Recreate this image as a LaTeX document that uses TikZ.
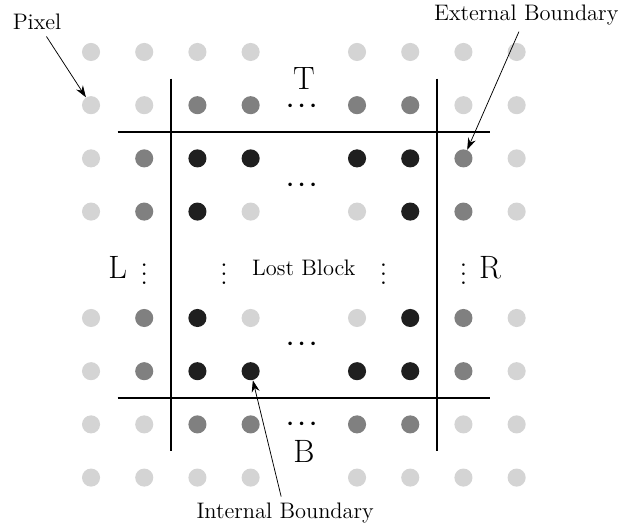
\documentclass[tikz,border=0pt]{standalone}
\usepackage{amsmath}
\usepackage{amssymb}
\usepackage{tikz}
\usetikzlibrary{arrows.meta}

\newcommand{\rowgap}{{\boldmath$\cdots$}}
\newcommand{\colgap}{\scalebox{1.2}{$\vdots$}}

\begin{document}
\begin{tikzpicture}[>={Stealth[length=2.2mm,width=1.5mm]},
  pixel/.style={circle,inner sep=0pt,minimum size=3.4mm},
  lightpx/.style={pixel,fill=black!17},
  midpx/.style={pixel,fill=black!50},
  darkpx/.style={pixel,fill=black!88},
  side/.style={font=\LARGE,inner sep=1pt},
  note/.style={font=\large},
  gap/.style={font=\large,inner sep=0pt},
  cut/.style={line width=1.1pt}]
  \useasboundingbox (-1.711,0.977) rectangle (9.924,-8.929);
  % row 0
  \node[lightpx] (p00) at (0,0) {};
  \node[lightpx] (p01) at (1,0) {};
  \node[lightpx] (p02) at (2,0) {};
  \node[lightpx] (p03) at (3,0) {};
  \node[lightpx] (p05) at (5,0) {};
  \node[lightpx] (p06) at (6,0) {};
  \node[lightpx] (p07) at (7,0) {};
  \node[lightpx] (p08) at (8,0) {};
  % row 1
  \node[lightpx] (p10) at (0,-1) {};
  \node[lightpx] (p11) at (1,-1) {};
  \node[midpx] (p12) at (2,-1) {};
  \node[midpx] (p13) at (3,-1) {};
  \node[midpx] (p15) at (5,-1) {};
  \node[midpx] (p16) at (6,-1) {};
  \node[lightpx] (p17) at (7,-1) {};
  \node[lightpx] (p18) at (8,-1) {};
  % row 2
  \node[lightpx] (p20) at (0,-2) {};
  \node[midpx] (p21) at (1,-2) {};
  \node[darkpx] (p22) at (2,-2) {};
  \node[darkpx] (p23) at (3,-2) {};
  \node[darkpx] (p25) at (5,-2) {};
  \node[darkpx] (p26) at (6,-2) {};
  \node[midpx] (p27) at (7,-2) {};
  \node[lightpx] (p28) at (8,-2) {};
  % row 3
  \node[lightpx] (p30) at (0,-3) {};
  \node[midpx] (p31) at (1,-3) {};
  \node[darkpx] (p32) at (2,-3) {};
  \node[lightpx] (p33) at (3,-3) {};
  \node[lightpx] (p35) at (5,-3) {};
  \node[darkpx] (p36) at (6,-3) {};
  \node[midpx] (p37) at (7,-3) {};
  \node[lightpx] (p38) at (8,-3) {};
  % row 5
  \node[lightpx] (p50) at (0,-5) {};
  \node[midpx] (p51) at (1,-5) {};
  \node[darkpx] (p52) at (2,-5) {};
  \node[lightpx] (p53) at (3,-5) {};
  \node[lightpx] (p55) at (5,-5) {};
  \node[darkpx] (p56) at (6,-5) {};
  \node[midpx] (p57) at (7,-5) {};
  \node[lightpx] (p58) at (8,-5) {};
  % row 6
  \node[lightpx] (p60) at (0,-6) {};
  \node[midpx] (p61) at (1,-6) {};
  \node[darkpx] (p62) at (2,-6) {};
  \node[darkpx] (p63) at (3,-6) {};
  \node[darkpx] (p65) at (5,-6) {};
  \node[darkpx] (p66) at (6,-6) {};
  \node[midpx] (p67) at (7,-6) {};
  \node[lightpx] (p68) at (8,-6) {};
  % row 7
  \node[lightpx] (p70) at (0,-7) {};
  \node[lightpx] (p71) at (1,-7) {};
  \node[midpx] (p72) at (2,-7) {};
  \node[midpx] (p73) at (3,-7) {};
  \node[midpx] (p75) at (5,-7) {};
  \node[midpx] (p76) at (6,-7) {};
  \node[lightpx] (p77) at (7,-7) {};
  \node[lightpx] (p78) at (8,-7) {};
  % row 8
  \node[lightpx] (p80) at (0,-8) {};
  \node[lightpx] (p81) at (1,-8) {};
  \node[lightpx] (p82) at (2,-8) {};
  \node[lightpx] (p83) at (3,-8) {};
  \node[lightpx] (p85) at (5,-8) {};
  \node[lightpx] (p86) at (6,-8) {};
  \node[lightpx] (p87) at (7,-8) {};
  \node[lightpx] (p88) at (8,-8) {};
  % dots
  \node[gap] (d1) at (4,-1.02) {\rowgap};
  \node[gap] (d2) at (4,-2.5) {\rowgap};
  \node[gap] (d6) at (4,-5.5) {\rowgap};
  \node[gap] (d7) at (4,-7) {\rowgap};
  \node[gap] (v1) at (1,-4.05) {\colgap};
  \node[gap] (v2) at (2.5,-4.05) {\colgap};
  \node[gap] (v6) at (5.5,-4.05) {\colgap};
  \node[gap] (v7) at (7,-4.05) {\colgap};
  % sides
  \node[side] (T) at (4,-0.5) {T};
  \node[side] (B) at (4,-7.5) {B};
  \node[side] (L) at (0.5,-4.05) {L};
  \node[side] (R) at (7.5,-4.05) {R};
  \node[note] (lost) at (4,-4.05) {Lost Block};
  % boundaries
  \draw[cut] (1.5,-0.5) -- (1.5,-7.5);
  \draw[cut] (6.5,-0.5) -- (6.5,-7.5);
  \draw[cut] (0.5,-1.5) -- (7.5,-1.5);
  \draw[cut] (0.5,-6.5) -- (7.5,-6.5);
  % labels
  \node[note] (pix) at (-1.015,0.564) {Pixel};
  \node[note] (ext) at (8.18,0.695) {External Boundary};
  \node[note] (int) at (3.65,-8.67) {Internal Boundary};
  \draw[->] (pix) -- (p10);
  \draw[->] (ext) -- (p27);
  \draw[->] (int) -- (p63);
\end{tikzpicture}
\end{document}
